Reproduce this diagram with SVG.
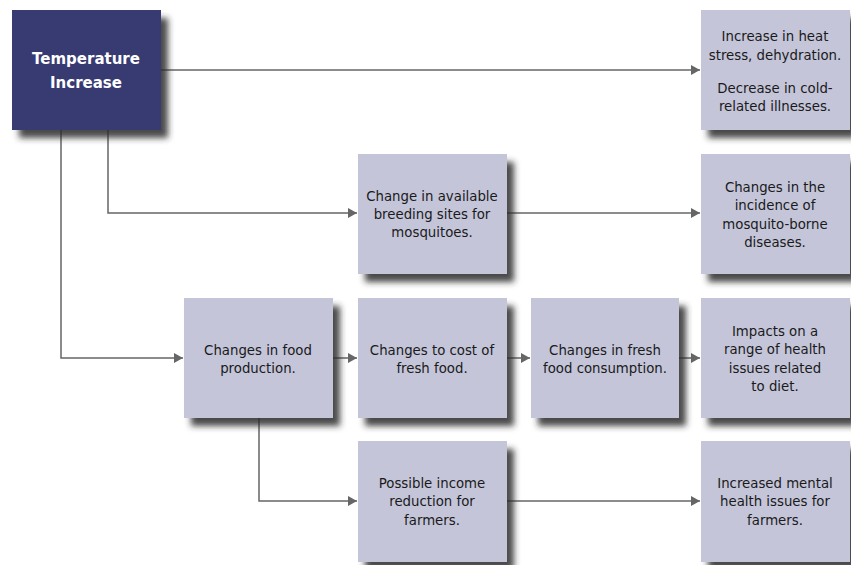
<svg xmlns="http://www.w3.org/2000/svg" width="851" height="565" viewBox="0 0 851 565">
<defs>
<filter id="sh" x="-10%" y="-10%" width="130%" height="130%">
<feDropShadow dx="7" dy="8" stdDeviation="3" flood-color="#2a2a2a" flood-opacity="0.85"/>
</filter>
<marker id="ah" markerWidth="10" markerHeight="10" refX="9" refY="5" orient="auto" markerUnits="userSpaceOnUse">
<path d="M0,0 L9,5 L0,10 Z" fill="#666"/>
</marker>
<style>
.box{fill:#C4C5D9;filter:url(#sh)}
.dark{fill:#373A72;filter:url(#sh)}
.t{font-family:"DejaVu Sans","Liberation Sans",sans-serif;font-size:13.3px;fill:#1a1a1a;text-anchor:middle}
.w{font-family:"DejaVu Sans","Liberation Sans",sans-serif;font-size:15px;font-weight:bold;fill:#fff;text-anchor:middle}
.c{fill:none;stroke:#666;stroke-width:1.5;marker-end:url(#ah)}
</style>
</defs>
<rect width="851" height="565" fill="#fff"/>
<g id="connectors">
<path class="c" d="M161,70 H700"/>
<path class="c" d="M108,130 V213 H357"/>
<path class="c" d="M507,213 H700"/>
<path class="c" d="M61,130 V358 H183"/>
<path class="c" d="M333,358 H357"/>
<path class="c" d="M507,358 H530"/>
<path class="c" d="M679,358 H700"/>
<path class="c" d="M259,418 V501 H357"/>
<path class="c" d="M507,501 H700"/>
</g>
<g id="temp">
<rect class="dark" x="12" y="10" width="149" height="120"/>
<text class="w" x="86" y="64">Temperature</text>
<text class="w" x="86" y="88">Increase</text>
</g>
<g id="heat">
<rect class="box" x="701" y="10" width="149" height="120"/>
<text class="t" x="775" y="41">Increase in heat</text>
<text class="t" x="775" y="60">stress, dehydration.</text>
<text class="t" x="775" y="93">Decrease in cold-</text>
<text class="t" x="775" y="111">related illnesses.</text>
</g>
<g id="breeding">
<rect class="box" x="358" y="154" width="149" height="120"/>
<text class="t" x="432" y="201">Change in available</text>
<text class="t" x="432" y="219">breeding sites for</text>
<text class="t" x="432" y="237">mosquitoes.</text>
</g>
<g id="mosquito">
<rect class="box" x="701" y="154" width="149" height="120"/>
<text class="t" x="775" y="192">Changes in the</text>
<text class="t" x="775" y="210">incidence of</text>
<text class="t" x="775" y="229">mosquito-borne</text>
<text class="t" x="775" y="247">diseases.</text>
</g>
<g id="food">
<rect class="box" x="184" y="298" width="149" height="120"/>
<text class="t" x="258" y="355">Changes in food</text>
<text class="t" x="258" y="373">production.</text>
</g>
<g id="cost">
<rect class="box" x="358" y="298" width="149" height="120"/>
<text class="t" x="432" y="355">Changes to cost of</text>
<text class="t" x="432" y="373">fresh food.</text>
</g>
<g id="consumption">
<rect class="box" x="531" y="298" width="148" height="120"/>
<text class="t" x="605" y="355">Changes in fresh</text>
<text class="t" x="605" y="373">food consumption.</text>
</g>
<g id="impacts">
<rect class="box" x="701" y="298" width="149" height="120"/>
<text class="t" x="775" y="336">Impacts on a</text>
<text class="t" x="775" y="354">range of health</text>
<text class="t" x="775" y="373">issues related</text>
<text class="t" x="775" y="391">to diet.</text>
</g>
<g id="income">
<rect class="box" x="358" y="441" width="149" height="121"/>
<text class="t" x="432" y="488">Possible income</text>
<text class="t" x="432" y="506">reduction for</text>
<text class="t" x="432" y="525">farmers.</text>
</g>
<g id="mental">
<rect class="box" x="701" y="441" width="149" height="121"/>
<text class="t" x="775" y="488">Increased mental</text>
<text class="t" x="775" y="506">health issues for</text>
<text class="t" x="775" y="525">farmers.</text>
</g>
</svg>
